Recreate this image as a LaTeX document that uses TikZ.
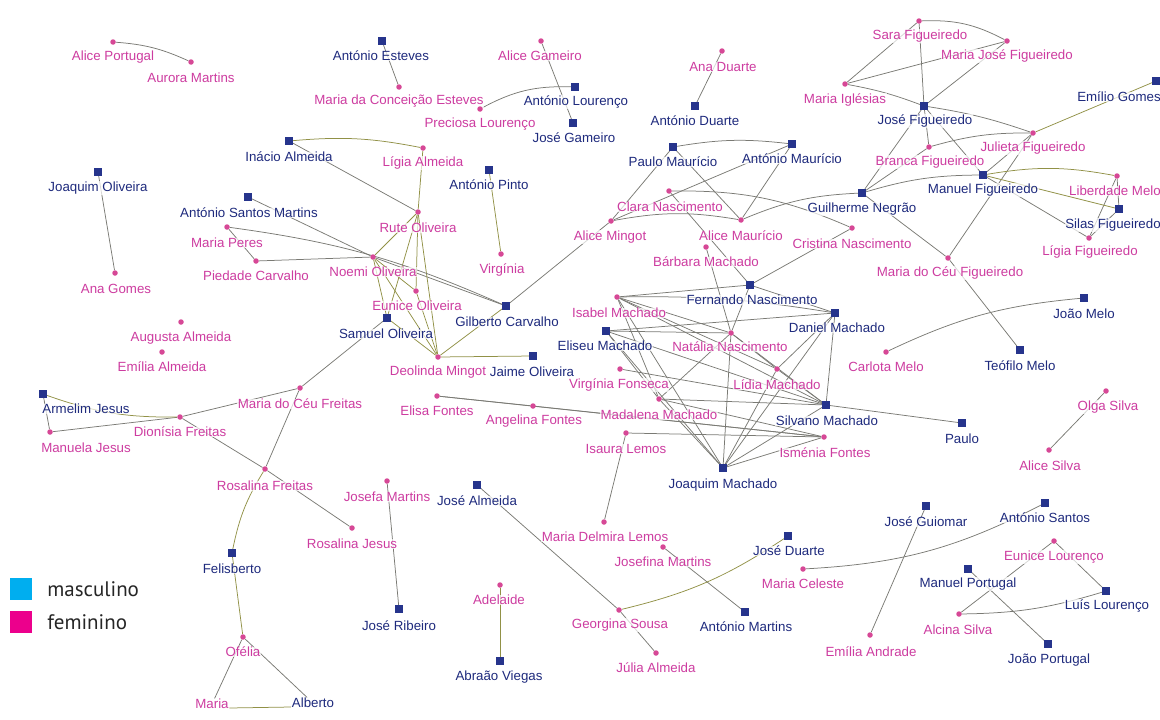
\documentclass[tikz,border=0pt]{standalone}
\usepackage{fontspec}
\setmainfont{Liberation Sans}
\newfontfamily\legendfont{PT Sans}
\usetikzlibrary{positioning}

\pgfdeclarelayer{back}
\pgfdeclarelayer{front}
\pgfsetlayers{back,main,front}

\definecolor{mblue}{RGB}{38,52,140}
\definecolor{mtext}{RGB}{30,42,125}
\definecolor{fpink}{RGB}{214,72,150}
\definecolor{ftext}{RGB}{205,60,160}
\definecolor{linkgray}{RGB}{122,122,116}
\definecolor{linkolive}{RGB}{145,145,70}
\definecolor{legcyan}{RGB}{0,174,239}
\definecolor{legmag}{RGB}{236,0,140}

\tikzset{
  male/.style={rectangle,fill=mblue,minimum size=7.5pt,inner sep=0pt},
  female/.style={circle,fill=fpink,minimum size=5.5pt,inner sep=0pt},
  tag/.style={font=\fontsize{13.3}{14}\selectfont,inner sep=0.5pt,
    fill=white,fill opacity=0.7,text opacity=1},
  mname/.style={tag,text=mtext},
  fname/.style={tag,text=ftext},
  link/.style={draw=linkgray,line width=0.75pt},
  kin/.style={link,draw=linkolive},
  legbox/.style={minimum size=22pt,inner sep=0pt},
  legtext/.style={font=\legendfont\fontsize{21}{22}\selectfont,inner sep=0pt,text=black!85}
}

\begin{document}
\begin{tikzpicture}[x=1pt,y=-1pt]

\useasboundingbox (0,0) rectangle (1160,720);

% Men: marker and name.
\foreach \n/\x/\y/\lx/\ly/\t in {
  aesteves/382/41/381/56/António Esteves,
  alourenco/575/87/576/102/António Lourenço,
  jgameiro/573/123/574/138/José Gameiro,
  iacio/289/141/289/157/Inácio Almeida,
  jqoliveira/98/172/98/188/Joaquim Oliveira,
  asmartins/248/197/249/213/António Santos Martins,
  apinto/489/170/489/185/António Pinto,
  aduarte/695/106/695/121/António Duarte,
  pmauricio/673/147/673/162/Paulo Maurício,
  amauricio/792/144/792/159/António Maurício,
  jfig/924/106/925/121/José Figueiredo,
  egomes/1156/81/1119/97/Emílio Gomes,
  mfig/983/175/983/190/Manuel Figueiredo,
  gnegrao/862/193/862/209/Guilherme Negrão,
  sfig/1119/209/1113/225/Silas Figueiredo,
  fnasc/750/285/752/300/Fernando Nascimento,
  dmachado/835/313/837/328/Daniel Machado,
  emachado/606/331/605/346/Eliseu Machado,
  smachado/826/405/827/421/Silvano Machado,
  jmachado/723/468/723/485/Joaquim Machado,
  gcarvalho/506/306/507/322/Gilberto Carvalho,
  soliveira/387/318/386/334/Samuel Oliveira,
  joliveira/533/356/532/372/Jaime Oliveira,
  jmelo/1084/298/1084/314/João Melo,
  tmelo/1020/350/1020/366/Teófilo Melo,
  paulo/962/423/962/439/Paulo,
  ajesus/43/394/86/409/Armelim Jesus,
  felisberto/232/553/232/569/Felisberto,
  jribeiro/399/609/399/626/José Ribeiro,
  jalmeida/477/485/477/501/José Almeida,
  aviegas/500/661/499/677/Abraão Viegas,
  amartins/745/612/746/627/António Martins,
  jduarte/788/536/789/551/José Duarte,
  jguiomar/926/506/926/522/José Guiomar,
  asantos/1045/503/1045/518/António Santos,
  mportugal/968/569/968/584/Manuel Portugal,
  llourenco/1106/591/1107/606/Luís Lourenço,
  jportugal/1048/644/1049/660/João Portugal} {
    \node[mname] (\n-t) at (\lx,\ly) {\t};
    \begin{pgfonlayer}{front}
      \node[male] (\n) at (\x,\y) {};
    \end{pgfonlayer}
}

% Women: marker and name.
\foreach \n/\x/\y/\lx/\ly/\t in {
  aportugal/113/42/113/57/Alice Portugal,
  aurora/191/62/191/78/Aurora Martins,
  mcesteves/399/87/399/101/Maria da Conceição Esteves,
  agameiro/541/41/540/56/Alice Gameiro,
  plourenco/480/109/480/124/Preciosa Lourenço,
  lalmeida/423/148/423/163/Lígia Almeida,
  anaduarte/722/51/723/67/Ana Duarte,
  sarafig/919/21/920/36/Sara Figueiredo,
  mjfig/1007/41/1007/56/Maria José Figueiredo,
  miglesias/845/84/845/100/Maria Iglésias,
  bfig/929/147/930/162/Branca Figueiredo,
  jufig/1033/133/1033/148/Julieta Figueiredo,
  lmelo/1117/176/1115/191/Liberdade Melo,
  ligfig/1089/238/1090/252/Lígia Figueiredo,
  mcfig/948/258/950/273/Maria do Céu Figueiredo,
  cnasc/669/191/670/207/Clara Nascimento,
  amingot/611/221/610/237/Alice Mingot,
  alicem/741/220/741/236/Alice Maurício,
  crnasc/852/228/852/244/Cristina Nascimento,
  bmachado/706/247/706/262/Bárbara Machado,
  imachado/617/297/619/313/Isabel Machado,
  nnasc/731/333/730/347/Natália Nascimento,
  vfonseca/620/369/619/385/Virgínia Fonseca,
  lmachado/777/369/777/385/Lídia Machado,
  mmachado/659/399/659/415/Madalena Machado,
  ifontes/824/437/825/453/Isménia Fontes,
  efontes/437/396/437/411/Elisa Fontes,
  afontes/533/406/534/421/Angelina Fontes,
  ilemos/626/433/626/449/Isaura Lemos,
  mdlemos/604/522/605/537/Maria Delmira Lemos,
  jmartins/663/547/663/562/Josefina Martins,
  gsousa/619/610/620/625/Georgina Sousa,
  jualmeida/656/653/656/668/Júlia Almeida,
  adelaide/500/585/499/600/Adelaide,
  mceleste/803/569/803/584/Maria Celeste,
  eandrade/870/635/871/652/Emília Andrade,
  elourenco/1054/541/1054/557/Eunice Lourenço,
  asilva/959/614/958/630/Alcina Silva,
  cmelo/886/352/886/367/Carlota Melo,
  osilva/1106/391/1108/407/Olga Silva,
  alsilva/1049/450/1050/466/Alice Silva,
  anagomes/115/273/116/289/Ana Gomes,
  mperes/227/227/227/243/Maria Peres,
  pcarvalho/256/261/256/276/Piedade Carvalho,
  roliveira/418/212/418/228/Rute Oliveira,
  noliveira/373/257/373/272/Noemi Oliveira,
  eoliveira/416/291/417/306/Eunice Oliveira,
  dmingot/438/357/438/372/Deolinda Mingot,
  virginia/501/254/502/270/Virgínia,
  aualmeida/181/322/181/338/Augusta Almeida,
  emalmeida/162/352/162/367/Emília Almeida,
  mcfreitas/300/388/300/404/Maria do Céu Freitas,
  dfreitas/180/417/180/432/Dionísia Freitas,
  mjesus/50/432/86/448/Manuela Jesus,
  rfreitas/265/469/265/486/Rosalina Freitas,
  josefa/387/481/387/497/Josefa Martins,
  rjesus/352/528/352/544/Rosalina Jesus,
  ofelia/243/637/243/652/Ofélia} {
    \node[fname] (\n-t) at (\lx,\ly) {\t};
    \begin{pgfonlayer}{front}
      \node[female] (\n) at (\x,\y) {};
    \end{pgfonlayer}
}

% Names without marker.
\node[fname] (maria) at (212,704) {Maria};
\node[mname] (alberto) at (313,703) {Alberto};

% Legend.
\node[legbox,fill=legcyan] (legm) at (21,589) {};
\node[legbox,fill=legmag] (legf) at (21,622) {};
\node[legtext,right=15pt of legm] (legmt) {masculino};
\node[legtext,right=15pt of legf] (legft) {feminino};

\begin{pgfonlayer}{back}

% Plain links.
\foreach \a/\b in {aesteves/mcesteves,agameiro/jgameiro,iacio/roliveira,
  jqoliveira/anagomes,asmartins/noliveira,mperes/pcarvalho,pcarvalho/noliveira,
  noliveira/gcarvalho,amingot/gcarvalho,soliveira/mcfreitas,mcfreitas/rfreitas,
  ajesus/mjesus,mjesus/dfreitas,dfreitas/mcfreitas,dfreitas/rfreitas,
  rfreitas/rjesus,josefa/jribeiro,ofelia/maria,ofelia/alberto,anaduarte/aduarte,
  amingot/pmauricio,amingot/amauricio,pmauricio/alicem,amauricio/alicem,
  cnasc/fnasc,crnasc/fnasc,gnegrao/mcfig,gnegrao/jfig,gnegrao/bfig,
  miglesias/sarafig,miglesias/mjfig,sarafig/jfig,mjfig/jfig,jfig/bfig,jfig/mfig,
  jufig/mfig,jufig/mcfig,lmelo/sfig,lmelo/ligfig,sfig/ligfig,mfig/ligfig,
  mcfig/tmelo,smachado/paulo,osilva/alsilva,efontes/afontes,efontes/ifontes,
  afontes/ifontes,ilemos/ifontes,ilemos/mdlemos,jalmeida/gsousa,gsousa/jualmeida,
  jmartins/amartins,jguiomar/eandrade,elourenco/llourenco,asilva/elourenco,
  mportugal/jportugal}
  \draw[link] (\a) -- (\b);

% Machado family.
\foreach \a/\b in {bmachado/nnasc,nnasc/jmachado,fnasc/nnasc,fnasc/dmachado,
  imachado/fnasc,imachado/nnasc,imachado/smachado,imachado/jmachado,
  imachado/lmachado,imachado/mmachado,emachado/nnasc,emachado/dmachado,
  emachado/smachado,emachado/jmachado,emachado/mmachado,vfonseca/smachado,
  mmachado/smachado,mmachado/ifontes,mmachado/nnasc,mmachado/jmachado,
  lmachado/dmachado,lmachado/smachado,lmachado/jmachado,nnasc/lmachado,
  nnasc/smachado,dmachado/smachado,dmachado/jmachado,smachado/jmachado,
  ifontes/jmachado}
  \draw[link] (\a) -- (\b);

% Olive links.
\foreach \a/\b in {lalmeida/roliveira,apinto/virginia,roliveira/noliveira,
  roliveira/soliveira,roliveira/eoliveira,roliveira/dmingot,noliveira/soliveira,
  noliveira/eoliveira,noliveira/dmingot,eoliveira/dmingot,soliveira/dmingot,
  dmingot/joliveira,gcarvalho/dmingot,felisberto/ofelia,adelaide/aviegas,
  egomes/jufig,mfig/sfig}
  \draw[kin] (\a) -- (\b);

% Bent links.
\draw[link] (aportugal) to[bend left=10] (aurora);
\draw[link] (plourenco) to[bend left=15] (alourenco);
\draw[kin] (iacio) to[bend left=8] (lalmeida);
\draw[link] (mperes) to[bend left=8] (gcarvalho);
\draw[kin] (ajesus) to[bend right=10] (dfreitas);
\draw[kin] (rfreitas) to[bend right=10] (felisberto);
\draw[link] (pmauricio) to[bend left=8] (amauricio);
\draw[link] (amingot) to[bend left=10] (alicem);
\draw[link] (alicem) to[bend left=10] (gnegrao);
\draw[link] (cnasc) to[bend left=12] (crnasc);
\draw[link] (gnegrao) to[bend left=8] (mfig);
\draw[link] (sarafig) to[bend left=15] (mjfig);
\draw[link] (miglesias) to[bend left=5] (jfig);
\draw[link] (jfig) to[bend left=5] (jufig);
\draw[link] (bfig) to[bend left=8] (jufig);
\draw[kin] (mfig) to[bend left=10] (lmelo);
\draw[link] (cmelo) to[bend left=10] (jmelo);
\draw[kin] (jduarte) to[bend left=10] (gsousa);
\draw[link] (mceleste) to[bend right=12] (asantos);
\draw[link] (asilva) to[bend right=8] (llourenco);
\draw[link] (imachado) to[bend left=5] (dmachado);
\draw[kin] ([yshift=-4pt]maria.east) -- ([yshift=-4pt]alberto.west);

\end{pgfonlayer}

\end{tikzpicture}
\end{document}
